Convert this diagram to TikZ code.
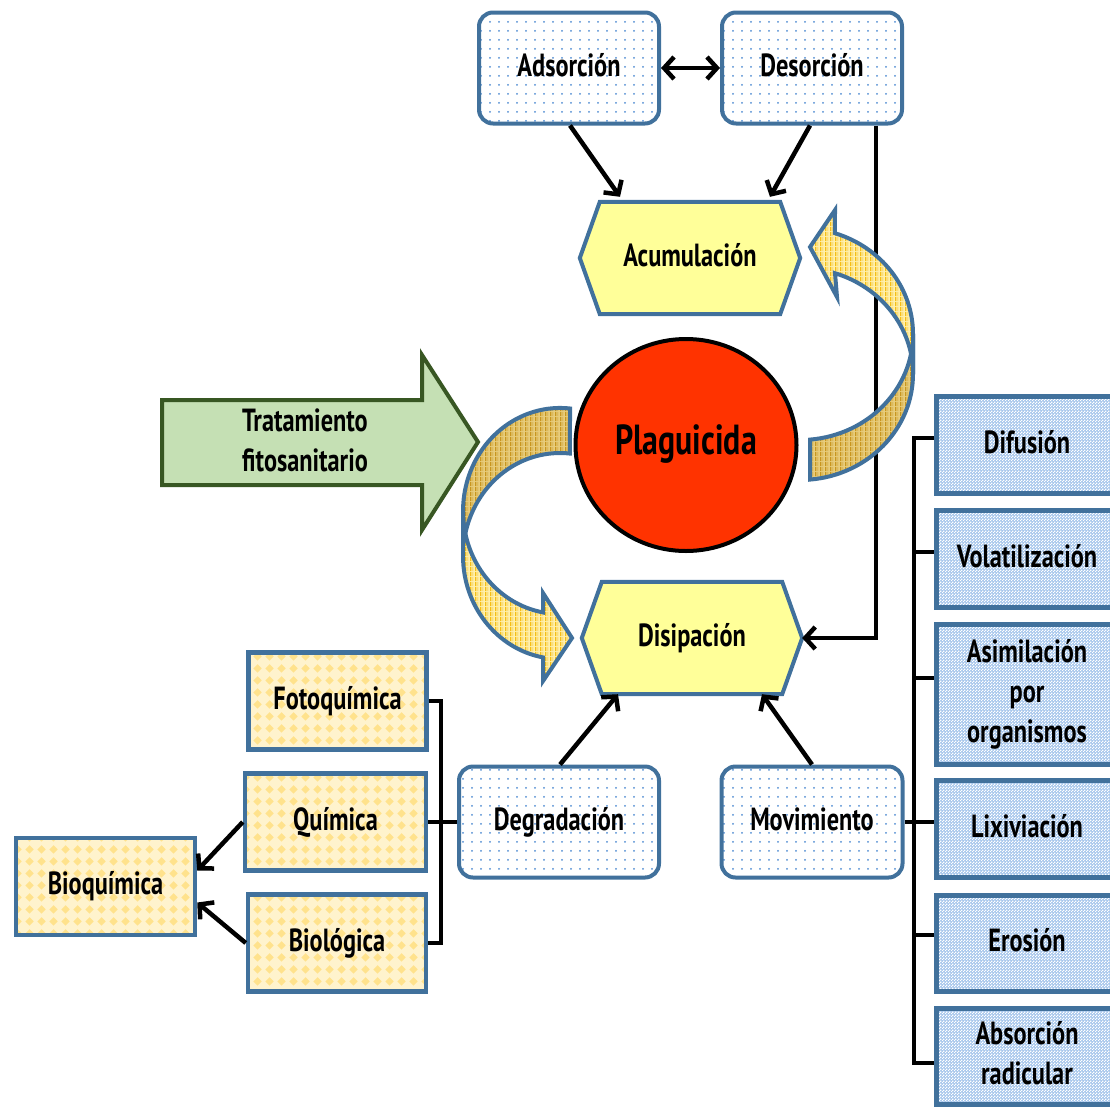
\documentclass[tikz,border=0pt]{standalone}
\usepackage{graphicx}
\usepackage{fontspec}
\setmainfont{PT Sans}
\usetikzlibrary{arrows.meta,shapes.geometric,patterns}

\pgfdeclarelayer{bg}
\pgfsetlayers{bg,main}

% colours
\definecolor{edgeblue}{RGB}{65,113,156}
\definecolor{hexfill}{RGB}{255,255,153}
\definecolor{plagred}{RGB}{255,51,0}
\definecolor{leafgreen}{RGB}{197,224,180}
\definecolor{leafedge}{RGB}{56,87,35}
\definecolor{dotblue}{RGB}{80,140,210}
\definecolor{skyfill}{RGB}{168,199,236}
\definecolor{creamfill}{RGB}{255,243,205}
\definecolor{creamdots}{RGB}{255,226,140}
\definecolor{stripefront}{RGB}{255,240,175}
\definecolor{stripefrontd}{RGB}{245,190,20}
\definecolor{stripeback}{RGB}{232,205,125}
\definecolor{stripebackd}{RGB}{200,150,30}

% fill textures
\pgfdeclarepatternformonly{sparsedots}{\pgfqpoint{0pt}{0pt}}{\pgfqpoint{9pt}{9pt}}{\pgfqpoint{9pt}{9pt}}%
  {\pgfpathcircle{\pgfqpoint{4.5pt}{4.5pt}}{1.1pt}\pgfusepath{fill}}
\pgfdeclarepatternformonly{diamondgrid}{\pgfqpoint{0pt}{0pt}}{\pgfqpoint{12pt}{12pt}}{\pgfqpoint{12pt}{12pt}}%
  {\pgfpathmoveto{\pgfqpoint{6pt}{1.5pt}}\pgfpathlineto{\pgfqpoint{10.5pt}{6pt}}%
   \pgfpathlineto{\pgfqpoint{6pt}{10.5pt}}\pgfpathlineto{\pgfqpoint{1.5pt}{6pt}}\pgfpathclose\pgfusepath{fill}}
\pgfdeclarepatternformonly{finestripes}{\pgfqpoint{0pt}{0pt}}{\pgfqpoint{5pt}{5pt}}{\pgfqpoint{5pt}{5pt}}%
  {\pgfpathrectangle{\pgfqpoint{0pt}{0pt}}{\pgfqpoint{1.6pt}{5pt}}%
   \pgfpathrectangle{\pgfqpoint{3pt}{0pt}}{\pgfqpoint{0.7pt}{5pt}}\pgfusepath{fill}}
\pgfdeclarepatternformonly{finecheck}{\pgfqpoint{0pt}{0pt}}{\pgfqpoint{3pt}{3pt}}{\pgfqpoint{3pt}{3pt}}%
  {\pgfpathrectangle{\pgfqpoint{0pt}{0pt}}{\pgfqpoint{1.5pt}{1.5pt}}%
   \pgfpathrectangle{\pgfqpoint{1.5pt}{1.5pt}}{\pgfqpoint{1.5pt}{1.5pt}}\pgfusepath{fill}}

% condensed label text
\newcommand\sq[1]{\scalebox{0.76}[1]{\begin{tabular}{@{}c@{}}#1\end{tabular}}}

\tikzset{
  lbl/.style={font=\fontsize{32}{40}\selectfont\bfseries, align=center, inner sep=0pt},
  dotbox/.style={lbl, draw=edgeblue, line width=4pt, rounded corners=14pt,
    preaction={fill=white}, pattern=sparsedots, pattern color=dotblue,
    minimum height=111pt},
  creambox/.style={lbl, draw=edgeblue, line width=4.5pt,
    preaction={fill=creamfill}, pattern=diamondgrid, pattern color=creamdots,
    minimum width=178pt, minimum height=97pt},
  skybox/.style={lbl, draw=edgeblue, line width=5pt,
    preaction={fill=skyfill}, pattern=finecheck, pattern color=white,
    minimum width=181pt, minimum height=97pt},
  hexnode/.style={lbl, minimum width=220pt, minimum height=112pt},
  hexshape/.style={draw=edgeblue, line width=4pt, fill=hexfill},
  conn/.style={line width=4.5pt, black},
  tip/.style={-{Straight Barb[length=10pt,width=22pt]}},
  curveback/.style={draw=edgeblue, line width=4pt, preaction={fill=stripeback},
    pattern=finestripes, pattern color=stripebackd},
  curvefront/.style={draw=edgeblue, line width=4pt, preaction={fill=stripefront},
    pattern=finestripes, pattern color=stripefrontd},
  greenarrow/.style={draw=leafedge, line width=4pt, fill=leafgreen, line join=miter},
}

\begin{document}
\begin{tikzpicture}[x=1pt,y=-1pt]
\useasboundingbox (0,0) rectangle (1110,1106);
\clip (0,0) rectangle (1110,1106);

% treatment input arrow
\draw[greenarrow] (162,400) -- (422,400) -- (422,355) -- (478,442) -- (422,530) -- (422,485) -- (162,485) -- cycle;
\node[lbl] (tfit) at (305,443) {\sq{Tratamiento\\fitosanitario}};

% top pair
\node[dotbox, minimum width=180pt] (ads) at (569,68) {\sq{Adsorción}};
\node[dotbox, minimum width=180pt] (desor) at (812,68) {\sq{Desorción}};

% hexagons
\node[hexnode] (acum) at (690,258) {\sq{Acumulación}};
\node[hexnode] (disip) at (692,638) {\sq{Disipación}};
\begin{pgfonlayer}{bg}
\foreach \h in {acum,disip}
  \draw[hexshape] ([xshift=20pt]\h.north west) -- ([xshift=-20pt]\h.north east) -- (\h.east)
    -- ([xshift=-20pt]\h.south east) -- ([xshift=20pt]\h.south west) -- (\h.west) -- cycle;
\end{pgfonlayer}

% central pesticide
\node[ellipse, draw=black, line width=4pt, fill=plagred, minimum width=221pt, minimum height=212pt,
  inner sep=0pt, font=\fontsize{42}{48}\selectfont\bfseries] (plag) at (686,445) {\sq{Plaguicida}};

% lower pair
\node[dotbox, minimum width=200pt] (degr) at (559,822) {\sq{Degradación}};
\node[dotbox, minimum width=181pt] (mov) at (812,822) {\sq{Movimiento}};

% degradation types
\node[creambox] (foto) at (337.5,701) {\sq{Fotoquímica}};
\node[creambox, minimum width=181pt] (quim) at (335.5,822) {\sq{Química}};
\node[creambox] (biol) at (337,943) {\sq{Biológica}};
\node[creambox, minimum width=179pt] (bioq) at (105.5,886.5) {\sq{Bioquímica}};

% movement types
\node[skybox] (dif) at (1027,445) {\sq{Difusión}};
\node[skybox] (vol) at (1027,559) {\sq{Volatilización}};
\node[skybox, minimum height=140pt] (asim) at (1027,694) {\sq{Asimilación\\por\\organismos}};
\node[skybox] (lix) at (1027,829) {\sq{Lixiviación}};
\node[skybox, minimum height=96pt] (eros) at (1027,943) {\sq{Erosión}};
\node[skybox, minimum height=96pt] (abso) at (1027,1056) {\sq{Absorción\\radicular}};

% connectors
\draw[conn, {Straight Barb[length=10pt,width=22pt]}-{Straight Barb[length=10pt,width=22pt]}] (ads.east) -- (desor.west);
\draw[conn, tip] ([xshift=1pt]ads.south) -- ([xshift=-70pt,yshift=5pt]acum.north);
\draw[conn, tip] ([xshift=-2pt]desor.south) -- ([xshift=80pt,yshift=5pt]acum.north);
\draw[conn, tip] ([xshift=64pt]desor.south) |- (disip.east);
\draw[conn, tip] ([xshift=1pt]degr.north) -- ([xshift=-74pt]disip.south);
\draw[conn, tip] (mov.north) -- ([xshift=70pt]disip.south);

\draw[conn] (foto.east) -- ++(12,0) |- (biol.east);
\draw[conn] (quim.east) -- (degr.west);
\draw[conn, tip] (quim.west) -- ([yshift=16pt]bioq.east);
\draw[conn, tip] (biol.west) -- ([yshift=-16pt]bioq.east);

\coordinate (spine) at (914,0);
\path ([yshift=7pt]dif.west) coordinate (t1)
      ([yshift=7pt]vol.west) coordinate (t2)
      ([yshift=16pt]asim.west) coordinate (t3)
      ([yshift=7pt]lix.west) coordinate (t4)
      ([yshift=8pt]eros.west) coordinate (t5)
      ([yshift=-7pt]abso.west) coordinate (t6);
\draw[conn] (t1) -- (t1 -| spine) -- (t6 -| spine) -- (t6);
\foreach \t in {t2,t3,t4,t5} \draw[conn] (\t -| spine) -- (\t);
\draw[conn] (mov.east) -- (mov.east -| spine);

% curved flow arrows: pesticide to dissipation
\draw[curveback] (570,408.5) arc[start angle=275.9, end angle=180, x radius=97, y radius=103]
  -- (463,556) arc[start angle=180, end angle=275.9, x radius=97, y radius=103] -- cycle;
\draw[curvefront] (463,511) arc[start angle=180, end angle=100.1, x radius=97, y radius=103]
  -- (543,593) -- (572,638) -- (543,681) -- (543,657.4)
  arc[start angle=100.1, end angle=180, x radius=97, y radius=103] -- cycle;

% curved flow arrows: pesticide to accumulation
\draw[curveback] (810,439.6) arc[start angle=84.92, end angle=0, x radius=113, y radius=106]
  -- (913,374) arc[start angle=0, end angle=84.92, x radius=113, y radius=106] -- cycle;
\draw[curvefront] (913,334) arc[start angle=360, end angle=288, x radius=113, y radius=106]
  -- (835,210) -- (810,247) -- (837,297) -- (835,273.2)
  arc[start angle=288, end angle=360, x radius=113, y radius=106] -- cycle;
\end{tikzpicture}
\end{document}
